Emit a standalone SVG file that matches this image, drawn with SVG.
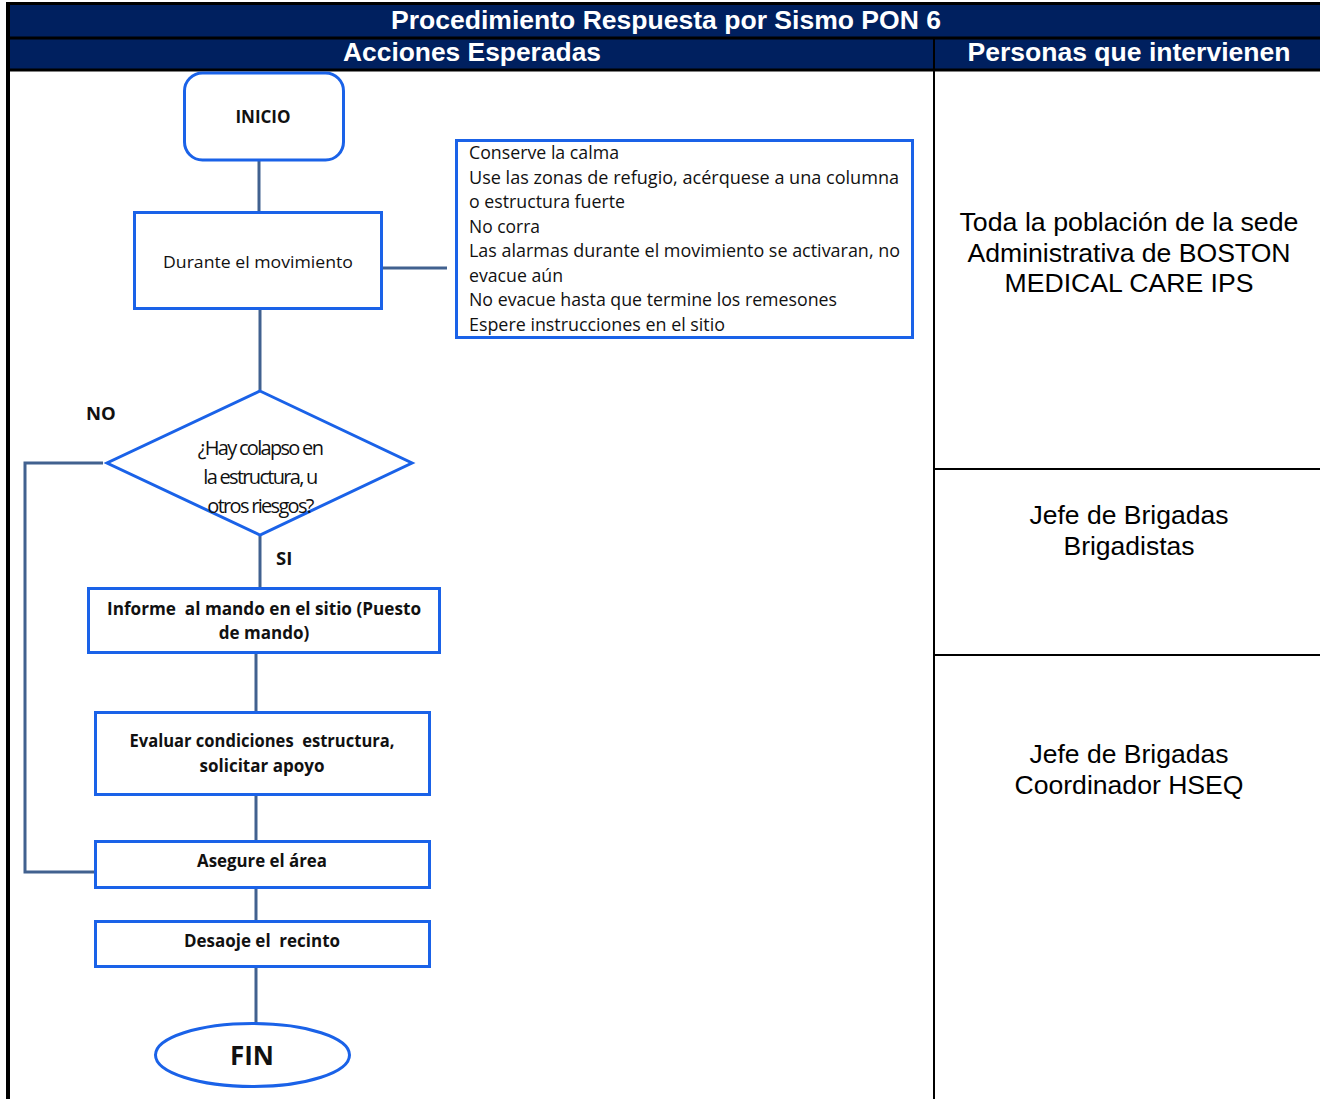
<svg xmlns="http://www.w3.org/2000/svg" width="1320" height="1099" viewBox="0 0 1320 1099">
<style>
.hdr{font-family:"Liberation Sans",Arial,sans-serif;font-weight:bold;font-size:25px;fill:#fff;text-anchor:middle}
.per{font-family:"Liberation Sans",Arial,sans-serif;font-size:25px;fill:#000;text-anchor:middle}
.grid{stroke:#000;stroke-width:2;fill:none}
.node{fill:#fff;stroke:#1a62e8;stroke-width:3}
.conn{stroke:#41618f;stroke-width:3;fill:none}
.t{font-family:"Open Sans","Noto Sans",sans-serif;font-size:17px;fill:#111;text-anchor:middle;white-space:pre}
.b{font-weight:bold}
.lst{font-family:"Open Sans","Noto Sans",sans-serif;font-size:17.5px;fill:#111}
.dia{font-family:"Open Sans","Noto Sans",sans-serif;font-size:20px;fill:#111;text-anchor:middle;letter-spacing:-1.7px}
</style>
<rect width="1320" height="1099" fill="#fff"/>
<g id="table">
<rect x="8" y="4" width="1312" height="66" fill="#00205f"/>
<line x1="6" y1="3.5" x2="1320" y2="3.5" stroke="#000" stroke-width="3"/>
<line x1="8" y1="38" x2="1320" y2="38" stroke="#000" stroke-width="3"/>
<line x1="8" y1="70" x2="1320" y2="70" stroke="#000" stroke-width="3"/>
<line x1="8" y1="2" x2="8" y2="1099" stroke="#000" stroke-width="4"/>
<line x1="934" y1="38" x2="934" y2="1099" class="grid"/>
<line x1="934" y1="469" x2="1320" y2="469" class="grid"/>
<line x1="934" y1="655" x2="1320" y2="655" class="grid"/>
<text x="666" y="29" class="hdr" textLength="550" lengthAdjust="spacingAndGlyphs">Procedimiento Respuesta por Sismo PON 6</text>
<text x="472" y="61" class="hdr" textLength="258" lengthAdjust="spacingAndGlyphs">Acciones Esperadas</text>
<text x="1129" y="61" class="hdr" textLength="323" lengthAdjust="spacingAndGlyphs">Personas que intervienen</text>
<text x="1129" y="231" class="per" textLength="339" lengthAdjust="spacingAndGlyphs">Toda la población de la sede</text>
<text x="1129" y="262" class="per" textLength="323" lengthAdjust="spacingAndGlyphs">Administrativa de BOSTON</text>
<text x="1129" y="292" class="per" textLength="249" lengthAdjust="spacingAndGlyphs">MEDICAL CARE IPS</text>
<text x="1129" y="524" class="per" textLength="199" lengthAdjust="spacingAndGlyphs">Jefe de Brigadas</text>
<text x="1129" y="555" class="per" textLength="131" lengthAdjust="spacingAndGlyphs">Brigadistas</text>
<text x="1129" y="763" class="per" textLength="199" lengthAdjust="spacingAndGlyphs">Jefe de Brigadas</text>
<text x="1129" y="794" class="per" textLength="229" lengthAdjust="spacingAndGlyphs">Coordinador HSEQ</text>
</g>
<g id="connectors">
<line x1="259" y1="160" x2="259" y2="212" class="conn"/>
<line x1="382" y1="268" x2="447" y2="268" class="conn"/>
<line x1="260" y1="309" x2="260" y2="390" class="conn"/>
<line x1="260" y1="536" x2="260" y2="588" class="conn"/>
<polyline points="103,463 25,463 25,872 95,872" class="conn"/>
<line x1="256" y1="652" x2="256" y2="712" class="conn"/>
<line x1="256" y1="795" x2="256" y2="841" class="conn"/>
<line x1="256" y1="887" x2="256" y2="921" class="conn"/>
<line x1="256" y1="967" x2="256" y2="1023" class="conn"/>
<text x="86" y="420" class="t b" style="text-anchor:start;font-size:18.5px">NO</text>
<text x="276" y="565" class="t b" style="text-anchor:start;font-size:18.5px">SI</text>
</g>
<g id="inicio">
<rect x="184.5" y="73" width="159" height="87" rx="18" class="node"/>
<text x="263" y="123" class="t b">INICIO</text>
</g>
<g id="durante">
<rect x="134.5" y="212.5" width="247" height="96" class="node"/>
<text x="258" y="268" class="t" textLength="190" lengthAdjust="spacingAndGlyphs">Durante el movimiento</text>
</g>
<g id="instrucciones">
<rect x="456.5" y="140.5" width="456" height="197" class="node"/>
<text class="lst" x="469" y="159" textLength="150" lengthAdjust="spacingAndGlyphs">Conserve la calma</text>
<text class="lst" x="469" y="184" textLength="430" lengthAdjust="spacingAndGlyphs">Use las zonas de refugio, acérquese a una columna</text>
<text class="lst" x="469" y="208" textLength="156" lengthAdjust="spacingAndGlyphs">o estructura fuerte</text>
<text class="lst" x="469" y="233" textLength="71" lengthAdjust="spacingAndGlyphs">No corra</text>
<text class="lst" x="469" y="257" textLength="431" lengthAdjust="spacingAndGlyphs">Las alarmas durante el movimiento se activaran, no</text>
<text class="lst" x="469" y="282" textLength="94" lengthAdjust="spacingAndGlyphs">evacue aún</text>
<text class="lst" x="469" y="306" textLength="368" lengthAdjust="spacingAndGlyphs">No evacue hasta que termine los remesones</text>
<text class="lst" x="469" y="331" textLength="256" lengthAdjust="spacingAndGlyphs">Espere instrucciones en el sitio</text>
</g>
<g id="decision">
<polygon points="260,391 412,463 260,535 107,463" class="node"/>
<text x="260" y="455" class="dia">¿Hay colapso en</text>
<text x="260" y="484" class="dia">la estructura, u</text>
<text x="260" y="513" class="dia">otros riesgos?</text>
</g>
<g id="informe">
<rect x="88.5" y="588.5" width="351" height="64" class="node"/>
<text x="264" y="615" class="t b" textLength="314" lengthAdjust="spacingAndGlyphs">Informe  al mando en el sitio (Puesto</text>
<text x="264" y="639" class="t b">de mando)</text>
</g>
<g id="evaluar">
<rect x="95.5" y="712.5" width="334" height="82" class="node"/>
<text x="262" y="747" class="t b" textLength="265" lengthAdjust="spacingAndGlyphs">Evaluar condiciones  estructura,</text>
<text x="262" y="772" class="t b">solicitar apoyo</text>
</g>
<g id="asegure">
<rect x="95.5" y="841.5" width="334" height="46" class="node"/>
<text x="262" y="867" class="t b" textLength="130" lengthAdjust="spacingAndGlyphs">Asegure el área</text>
</g>
<g id="desaoje">
<rect x="95.5" y="921.5" width="334" height="45" class="node"/>
<text x="262" y="947" class="t b" textLength="156" lengthAdjust="spacingAndGlyphs">Desaoje el  recinto</text>
</g>
<g id="fin">
<ellipse cx="252.5" cy="1055" rx="97" ry="31.5" class="node"/>
<text x="252" y="1065" class="t b" style="font-size:26px">FIN</text>
</g>
</svg>
